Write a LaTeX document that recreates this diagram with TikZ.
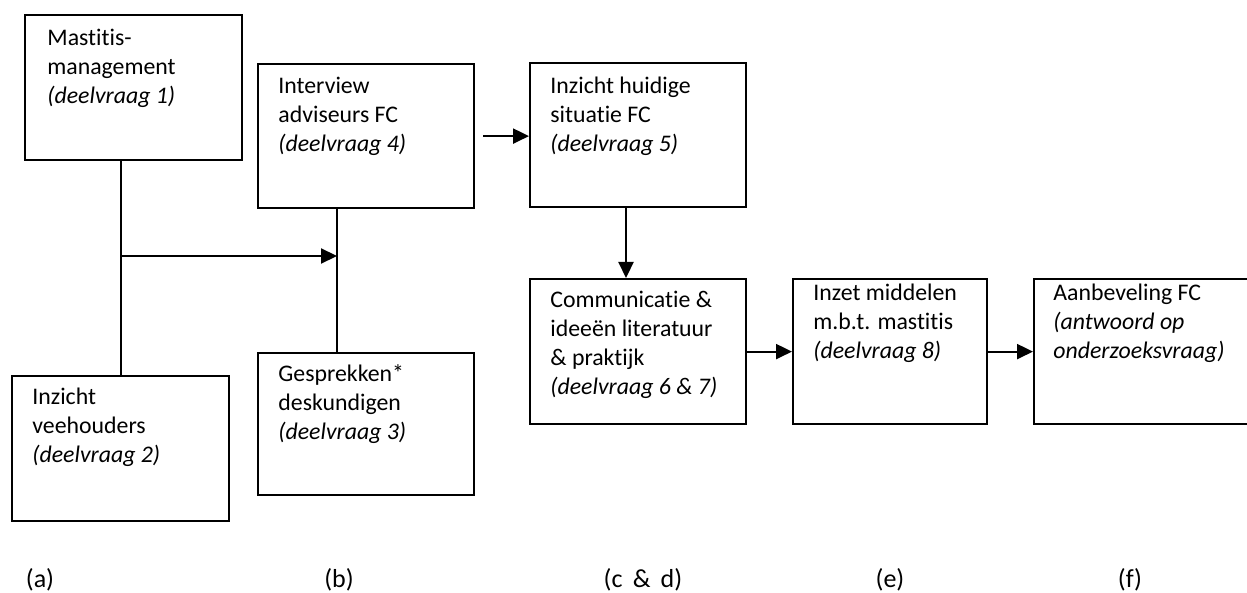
\documentclass[tikz,border=0pt]{standalone}
\usepackage{fontspec}
\setmainfont{Carlito}[Ligatures={NoCommon}]
\usetikzlibrary{arrows.meta}

\begin{document}
\begin{tikzpicture}[x=0.5pt,y=-0.5pt,>={Triangle[length=8pt,width=7.5pt]},
  blok/.style={draw,line width=1.1pt,anchor=north west,inner sep=0pt},
  tekst/.style={anchor=north west,inner sep=0pt,align=left,
    font=\fontsize{11.9}{14.5}\selectfont,execute at begin node=\strut},
  kolom/.style={anchor=base,inner sep=0pt,font=\fontsize{13}{15}\selectfont},
  lijn/.style={line width=1.1pt}]
\useasboundingbox (0,0) rectangle (1247,593);
% blokken
\node[blok,minimum width=108.5pt,minimum height=72.5pt] (mm) at (24,14) {};
\node[blok,minimum width=108.5pt,minimum height=72.5pt] (iv) at (11,375) {};
\node[blok,minimum width=108pt,minimum height=72pt] (ia) at (257,63) {};
\node[blok,minimum width=108pt,minimum height=71pt] (gd) at (257,352) {};
\node[blok,minimum width=108pt,minimum height=72pt] (ih) at (529,62) {};
\node[blok,minimum width=108pt,minimum height=72.5pt] (cl) at (529,278) {};
\node[blok,minimum width=97pt,minimum height=72.5pt] (im) at (792,278) {};
\node[blok,minimum width=112pt,minimum height=72.5pt] (af) at (1033,278) {};
% teksten
\node[tekst] (mm-t) at ([xshift=11.5pt,yshift=-7.35pt]mm.north west) {Mastitis-\\management\\\textit{(deelvraag 1)}};
\node[tekst] (iv-t) at ([xshift=10.5pt,yshift=-6.35pt]iv.north west) {Inzicht\\veehouders\\\textit{(deelvraag 2)}};
\node[tekst] (ia-t) at ([xshift=10.5pt,yshift=-6.85pt]ia.north west) {Interview\\adviseurs FC\\\textit{(deelvraag 4)}};
\node[tekst] (gd-t) at ([xshift=10.5pt,yshift=-6.35pt]gd.north west) {Gesprekken*\\deskundigen\\\textit{(deelvraag 3)}};
\node[tekst] (ih-t) at ([xshift=10.5pt,yshift=-7.35pt]ih.north west) {Inzicht huidige\\situatie FC\\\textit{(deelvraag 5)}};
\node[tekst] (cl-t) at ([xshift=10.5pt,yshift=-6.35pt]cl.north west) {Communicatie \&\\ideeën literatuur\\\& praktijk\\\textit{(deelvraag 6 \& 7)}};
\node[tekst] (im-t) at ([xshift=10.5pt,yshift=-2.85pt]im.north west) {Inzet middelen\\m.b.t. mastitis\\\textit{(deelvraag 8)}};
\node[tekst] (af-t) at ([xshift=10pt,yshift=-2.85pt]af.north west) {Aanbeveling FC\\\textit{(antwoord op}\\\textit{onderzoeksvraag)}};
% verbindingen
\coordinate (split) at (121,256);
\coordinate (merge) at (337,256);
\coordinate (knik) at (626,240);
\draw[lijn] (split |- mm.south) -- (split |- iv.north);
\draw[lijn] (merge |- ia.south) -- (merge |- gd.north);
\draw[lijn,->] (split) -- (merge);
\draw[lijn,->] ([xshift=4pt]ia.east) -- (ia.east -| ih.west);
\draw[lijn,->] (knik |- ih.south) -- (knik |- cl.north);
\draw[lijn,->] (cl.east) -- (cl.east -| im.west);
\draw[lijn,->] (im.east) -- (im.east -| af.west);
% kolommen
\node[kolom] (ka) at (40,587) {(a)};
\node[kolom] (kb) at (339,587) {(b)};
\node[kolom] (kc) at (643,587) {(c \,\& \,d)};
\node[kolom] (ke) at (890,587) {(e)};
\node[kolom] (kf) at (1130,587) {(f)};
\end{tikzpicture}
\end{document}
